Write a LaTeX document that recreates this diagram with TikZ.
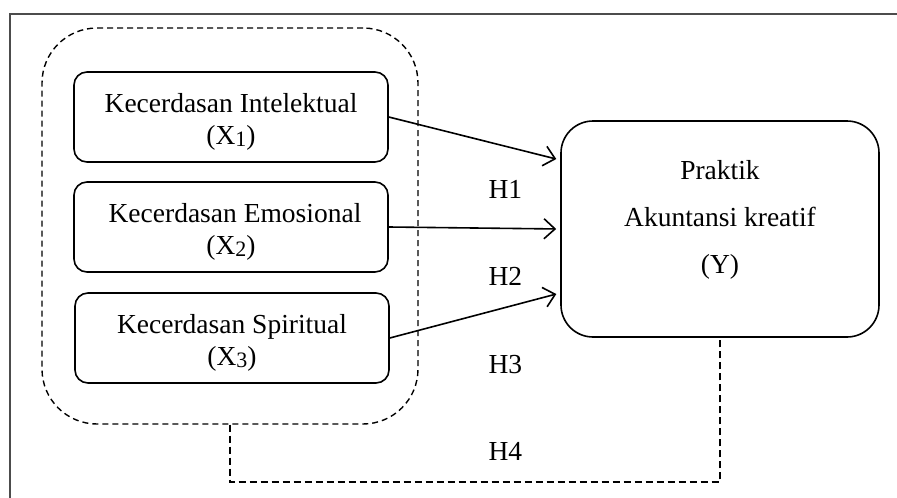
\documentclass[tikz,border=0pt]{standalone}
\usepackage{fontspec}
\setmainfont{Liberation Serif}
\usepackage{tikz}
\usetikzlibrary{calc,arrows.meta}

\newcommand{\vsub}[1]{\raisebox{-2pt}{\fontsize{22}{22}\selectfont #1}}

\begin{document}
\begin{tikzpicture}[x=1pt, y=-1pt,
    font=\fontsize{27.5}{32}\selectfont,
    varbox/.style={draw, line width=1.6pt, rounded corners=13pt, align=center,
      minimum width=314pt, minimum height=90pt, inner sep=0pt},
    hyp/.style={-{Straight Barb[length=11pt,width=20pt,line width=1.6pt]},
      line width=1.6pt, shorten >=4pt},
    grpdash/.style={line width=1.4pt, dash pattern=on 6pt off 4pt}]
      \useasboundingbox (0,0) rectangle (897,498);
      \draw[line width=2pt, black!70] (10,498) -- (10,14) -- (897,14);
      \node[draw, grpdash, rounded corners=55pt, minimum width=376pt, minimum height=396pt]
        (grp) at (230,226) {};
      \node[varbox] (xone)   at (231,117) {\rule{0pt}{29pt}Kecerdasan Intelektual\\(X\vsub{1})};
      \node[varbox] (xtwo)   at (231,227) {\rule{0pt}{29pt}\hspace*{8pt}Kecerdasan Emosional\\(X\vsub{2})};
      \node[varbox] (xthree) at (232,338) {\rule{0pt}{29pt}Kecerdasan Spiritual\\(X\vsub{3})};
      \node[draw, line width=1.6pt, rounded corners=32pt, align=center, inner sep=0pt,
        minimum width=318pt, minimum height=216pt, font=\fontsize{27.5}{47}\selectfont]
        (prak) at (720,229) {Praktik\\Akuntansi kreatif\\(Y)\rule[-24pt]{0pt}{24pt}};
      \draw[hyp] (xone.east)   -- ([yshift=69pt]prak.west);
      \draw[hyp] (xtwo.east)   -- (prak.west);
      \draw[hyp] (xthree.east) -- ([yshift=-64pt]prak.west);
      \node[anchor=base west] (hone)   at (485,198) {H1};
      \node[anchor=base west] (htwo)   at (485,285) {H2};
      \node[anchor=base west] (hthree) at (485,373) {H3};
      \node[anchor=base west] (hfour)  at (485,460) {H4};
      \draw[line width=1.4pt, dash pattern=on 7pt off 4pt]
        (grp.south) -- (grp.south |- 0,482) -| (prak.south);
    \end{tikzpicture}
\end{document}
